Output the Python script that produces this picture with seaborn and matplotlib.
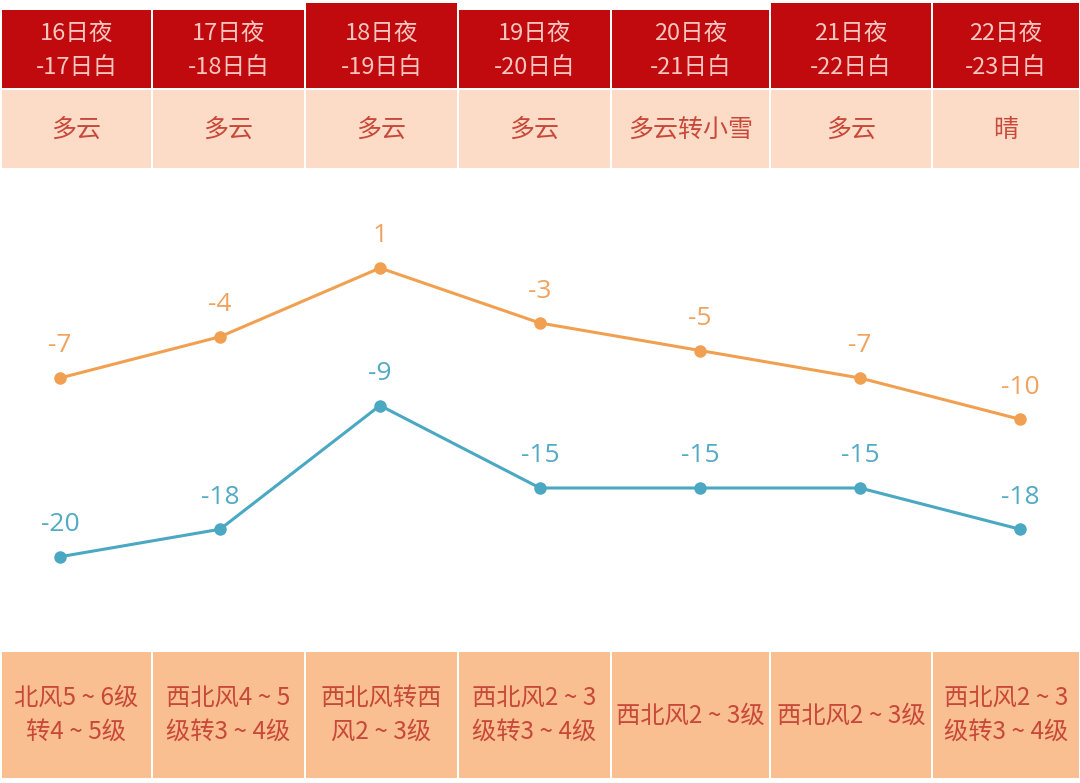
import matplotlib
matplotlib.use("Agg")
import matplotlib.pyplot as plt
import seaborn as sns
import pandas as pd
from matplotlib.patches import Rectangle

# ---------------- data ----------------
periods = ["16日夜\n-17日白", "17日夜\n-18日白", "18日夜\n-19日白", "19日夜\n-20日白",
           "20日夜\n-21日白", "21日夜\n-22日白", "22日夜\n-23日白"]
weather = ["多云", "多云", "多云", "多云", "多云转小雪", "多云", "晴"]
high_temp = [-7, -4, 1, -3, -5, -7, -10]
low_temp = [-20, -18, -9, -15, -15, -15, -18]
wind = ["北风5 ~ 6级\n转4 ~ 5级", "西北风4 ~ 5\n级转3 ~ 4级", "西北风转西\n风2 ~ 3级",
        "西北风2 ~ 3\n级转3 ~ 4级", "西北风2 ~ 3级", "西北风2 ~ 3级", "西北风2 ~ 3\n级转3 ~ 4级"]

sns.set_theme(style="white")
plt.rcParams['font.family'] = ['Noto Sans CJK SC', 'DejaVu Sans']

W, H = 1080, 783
fig = plt.figure(figsize=(W / 100, H / 100), dpi=100)
fig.patch.set_facecolor("white")

# overlay axes in pixel coordinates for the table cells
tab = fig.add_axes([0, 0, 1, 1])
tab.set_xlim(0, W)
tab.set_ylim(H, 0)
tab.axis("off")

bounds = [1, 152, 305, 458, 611, 770, 932, 1080]
red_tops = [10, 10, 3, 10, 10, 3, 3]
RED = "#C00A0E"
RED_TXT = "#F8C6C0"
PEACH1 = "#FCDCC7"
PEACH2 = "#F9BF90"
CELL_TXT = "#C8483A"

for i in range(7):
    x0, x1 = bounds[i] + 1, bounds[i + 1] - 1
    xc = (bounds[i] + bounds[i + 1]) / 2
    tab.add_patch(Rectangle((x0, red_tops[i]), x1 - x0, 88 - red_tops[i], color=RED, lw=0))
    tab.add_patch(Rectangle((x0, 90), x1 - x0, 78, color=PEACH1, lw=0))
    tab.add_patch(Rectangle((x0, 652), x1 - x0, 126, color=PEACH2, lw=0))
    l1, l2 = periods[i].split("\n")
    tab.text(xc, 33, l1, ha="center", va="center", fontsize=17, color=RED_TXT)
    tab.text(xc, 67, l2, ha="center", va="center", fontsize=17, color=RED_TXT)
    tab.text(xc, 130, weather[i], ha="center", va="center", fontsize=18, color=CELL_TXT)
    lines = wind[i].split("\n")
    if len(lines) == 2:
        tab.text(xc, 698, lines[0], ha="center", va="center", fontsize=17.5, color=CELL_TXT)
        tab.text(xc, 732, lines[1], ha="center", va="center", fontsize=17.5, color=CELL_TXT)
    else:
        tab.text(xc, 716, lines[0], ha="center", va="center", fontsize=17.5, color=CELL_TXT)

# chart axes: x positions 60..1020 px, y from 170..650 px
ax_left, ax_right = 0, 1080
ax_top, ax_bot = 170, 650
ax = fig.add_axes([ax_left / W, 1 - ax_bot / H, (ax_right - ax_left) / W, (ax_bot - ax_top) / H])
ax.patch.set_alpha(0)
ax.axis("off")

df = pd.DataFrame({
    "x": list(range(7)) * 2,
    "t": high_temp + low_temp,
    "s": ["high"] * 7 + ["low"] * 7,
})
ORANGE = "#F0A050"
BLUE = "#4AA8C2"
sns.lineplot(data=df, x="x", y="t", hue="s", palette={"high": ORANGE, "low": BLUE},
             marker="o", markersize=9, markeredgewidth=0, linewidth=2.2, legend=False, ax=ax)
ax.set_xlim(-0.375, 6.375)
px_per_unit = 13.75
ax.set_ylim(-7 - (ax_bot - 378) / px_per_unit, -7 + (378 - ax_top) / px_per_unit)
ax.axis("off")

for i, v in enumerate(high_temp):
    ax.annotate(str(v), (i, v), xytext=(0, 32), textcoords="offset pixels",
                ha="center", va="center", fontsize=19, color="#F0A35E", family="Open Sans")
for i, v in enumerate(low_temp):
    ax.annotate(str(v), (i, v), xytext=(0, 32), textcoords="offset pixels",
                ha="center", va="center", fontsize=19, color="#52AAC4", family="Open Sans")

fig.savefig("out.png", dpi=100, facecolor="white")
